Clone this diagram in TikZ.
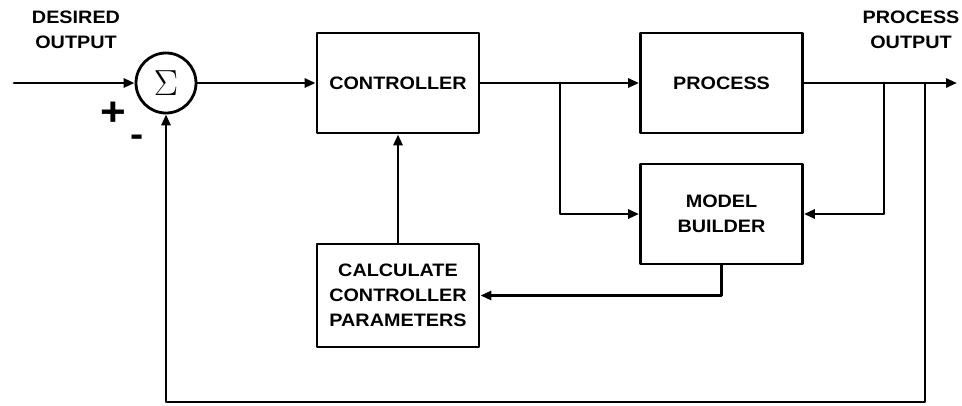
\documentclass[tikz,border=0pt]{standalone}
\usepackage{fontspec}
\setmainfont{Liberation Sans}[FakeStretch=1.1]
\usetikzlibrary{arrows.meta}

\begin{document}
\begin{tikzpicture}[x=1pt,y=-1pt,line width=2.8pt,line cap=round,line join=round,
    every node/.style={font=\fontsize{18}{25}\selectfont\bfseries},
    block/.style={draw,minimum width=162pt,minimum height=100pt,align=center,inner sep=0pt},
    sig/.style={-{Triangle[length=11pt,width=9pt]}}]
  \useasboundingbox (0,0) rectangle (962,405);
  % blocks
  \node[draw,circle,minimum size=60pt,inner sep=0pt] (sum) at (166,83) {\scalebox{2.1}{$\Sigma$}};
  \node[block] (ctrl) at (398,83) {CONTROLLER};
  \node[block] (proc) at (721.5,83) {PROCESS};
  \node[block] (model) at (721.5,214) {MODEL\\BUILDER};
  \node[block,minimum height=103pt] (calc) at (398,295.5) {CALCULATE\\CONTROLLER\\PARAMETERS};
  % labels
  \node[align=center] (desired) at (76,30) {DESIRED\\OUTPUT};
  \node[align=center] (procout) at (911,30) {PROCESS\\OUTPUT};
  \node[font=\fontsize{40}{40}\selectfont\bfseries] (plus) at (113,114) {+};
  \node[font=\fontsize{36}{36}\selectfont\bfseries] (minus) at (137,141) {-};
  % branch points
  \coordinate (in) at (14,83);
  \coordinate (b1) at (560,83);
  \coordinate (b2) at (884,83);
  \coordinate (b3) at (925,83);
  \coordinate (out) at (957,83);
  \coordinate (fb) at (925,402);
  % connectors
  \draw[sig] (in) -- (sum);
  \draw[sig] (sum) -- (ctrl);
  \draw[sig] (ctrl) -- (proc);
  \draw[sig] (b1) |- (model);
  \draw[sig] (proc) -- (out);
  \draw[sig] (b2) |- (model.east);
  \draw[sig] (b3) -- (fb) -| (sum);
  \draw[sig] (model.south) |- (calc.east);
  \draw[sig] (calc) -- (ctrl);
\end{tikzpicture}
\end{document}
